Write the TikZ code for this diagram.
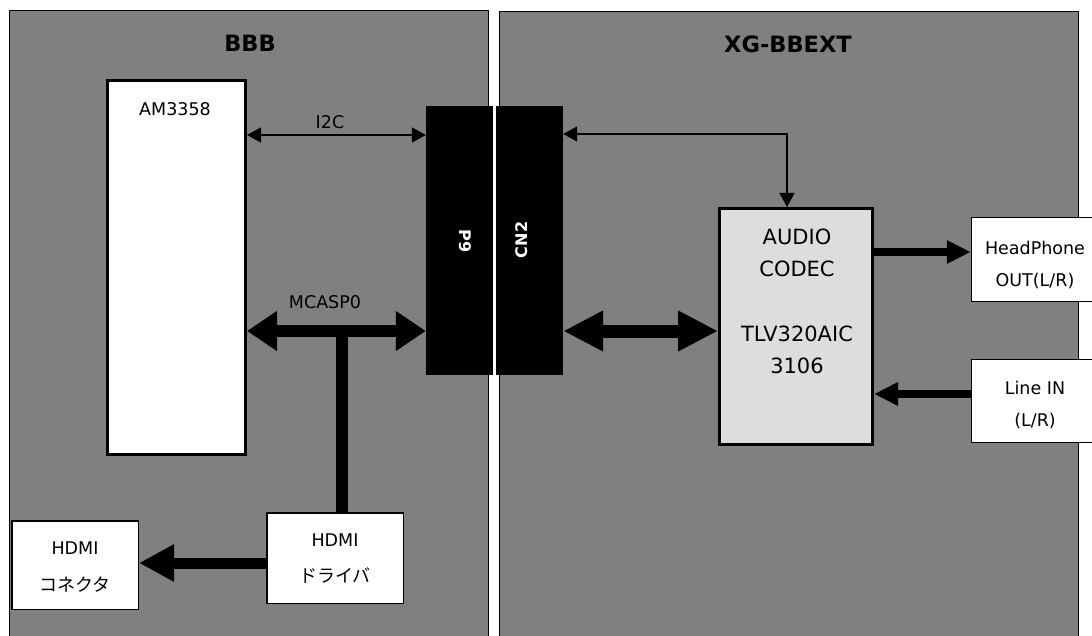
\documentclass[tikz,border=0pt]{standalone}
\usepackage{fontspec}
\setmainfont{DejaVu Sans}
\newfontfamily\jpfont{Noto Sans CJK JP}
\usetikzlibrary{arrows.meta}
\definecolor{panelgray}{HTML}{808080}
\definecolor{codecgray}{HTML}{DDDDDD}
\begin{document}
\begin{tikzpicture}[x=1pt,y=-1pt,
  panel/.style={draw=black,line width=1.5pt,fill=panelgray},
  title/.style={font=\fontsize{22.5}{27}\selectfont\bfseries},
  txt/.style={font=\fontsize{17.5}{32}\selectfont,align=center,inner sep=0pt},
  chip/.style={draw=black,line width=3pt,rectangle,inner sep=0pt},
  smallbox/.style={draw=black,line width=1.5pt,fill=white,rectangle,inner sep=0pt},
  conn/.style={fill=black,rectangle,inner sep=0pt,minimum width=67pt,minimum height=269pt},
  conntxt/.style={text=white,font=\fontsize{16}{19}\selectfont\bfseries,inner sep=0pt},
  thinarrow/.style={line width=1.4pt,{Triangle[length=14pt,width=15pt]}-{Triangle[length=14pt,width=15pt]}},
  bus/.style={line width=12pt,{Triangle[length=30pt,width=38pt]}-{Triangle[length=30pt,width=38pt]}},
  bigbus/.style={line width=13pt,{Triangle[length=40pt,width=38pt]}-{Triangle[length=40pt,width=38pt]}},
  audioarrow/.style={line width=8pt,-{Triangle[length=24pt,width=22pt]}},
  hdmiarrow/.style={line width=11pt,-{Triangle[length=35pt,width=35pt]}}
]
\useasboundingbox (0,0) rectangle (1092,636);

% panels
\path[panel] (9.5,10.5) rectangle (488.5,700);
\path[panel] (499.5,11.5) rectangle (1078.5,700);
\node[title] (bbb) at (250,43) {BBB};
\node[title] (xg) at (788,44) {XG-BBEXT};

% BBB side
\node[chip,fill=white,minimum width=138pt,minimum height=374pt] (am) at (176.5,267.5) {};
\node[txt] (amlabel) at (175,109) {AM3358};
\node[conn] (p9) at (459.5,240.5) {};
\node[conntxt,rotate=-90] (p9label) at (465,241) {P9};
\node[smallbox,minimum width=136.5pt,minimum height=90.5pt] (drv) at (335,558) {};
\node[txt,font=\fontsize{17.5}{36}\selectfont] (drvlabel) at (335,559) {HDMI\\{\jpfont\fontsize{18}{36}\selectfont ドライバ}};
\node[smallbox,minimum width=126.5pt,minimum height=88.5pt] (hconn) at (75,565) {};
\node[txt,font=\fontsize{17.5}{37}\selectfont] (hconnlabel) at (75,567) {HDMI\\{\jpfont\fontsize{18}{37}\selectfont コネクタ}};

% XG-BBEXT side
\node[conn] (cn2) at (529.5,240.5) {};
\node[conntxt,rotate=90] (cn2label) at (522,240) {CN2};
\node[chip,fill=codecgray,minimum width=153pt,minimum height=236pt] (codec) at (796,326.5) {};
\node[txt,font=\fontsize{21}{32}\selectfont] (codeclabel) at (797,301) {AUDIO\\CODEC\\[33pt]TLV320AIC\\3106};
\node[smallbox,minimum width=128pt,minimum height=84pt] (hp) at (1035.5,259.5) {};
\node[txt] (hplabel) at (1035,265) {HeadPhone\\OUT(L/R)};
\node[smallbox,minimum width=128pt,minimum height=83pt] (linein) at (1035.5,401) {};
\node[txt] (lineinlabel) at (1035,405) {Line IN\\(L/R)};

% coordinates for connector heights
\coordinate (yi2c) at (0,135);
\coordinate (tee) at (342,331);
\coordinate (knee) at (787,134);
\coordinate (yhp) at (0,252);
\coordinate (yli) at (0,394);
\coordinate (yhdmi) at (0,563);

% connectors
\draw[thinarrow] (am.east |- yi2c) -- (p9.west |- yi2c);
\node[txt] (i2clabel) at (330,122) {I2C};
\draw[line width=12pt] (tee) -- (drv.north -| tee);
\draw[bus] (am.east |- tee) -- (p9.west |- tee);
\node[txt] (mcasplabel) at (325,302) {MCASP0};
\draw[hdmiarrow] (drv.west |- yhdmi) -- (hconn.east |- yhdmi);
\draw[thinarrow] (cn2.east |- knee) -- (knee) -- (codec.north -| knee);
\draw[bigbus] (cn2.east |- tee) -- (codec.west |- tee);
\draw[audioarrow] (codec.east |- yhp) -- (hp.west |- yhp);
\draw[audioarrow] (linein.west |- yli) -- (codec.east |- yli);
\end{tikzpicture}
\end{document}
